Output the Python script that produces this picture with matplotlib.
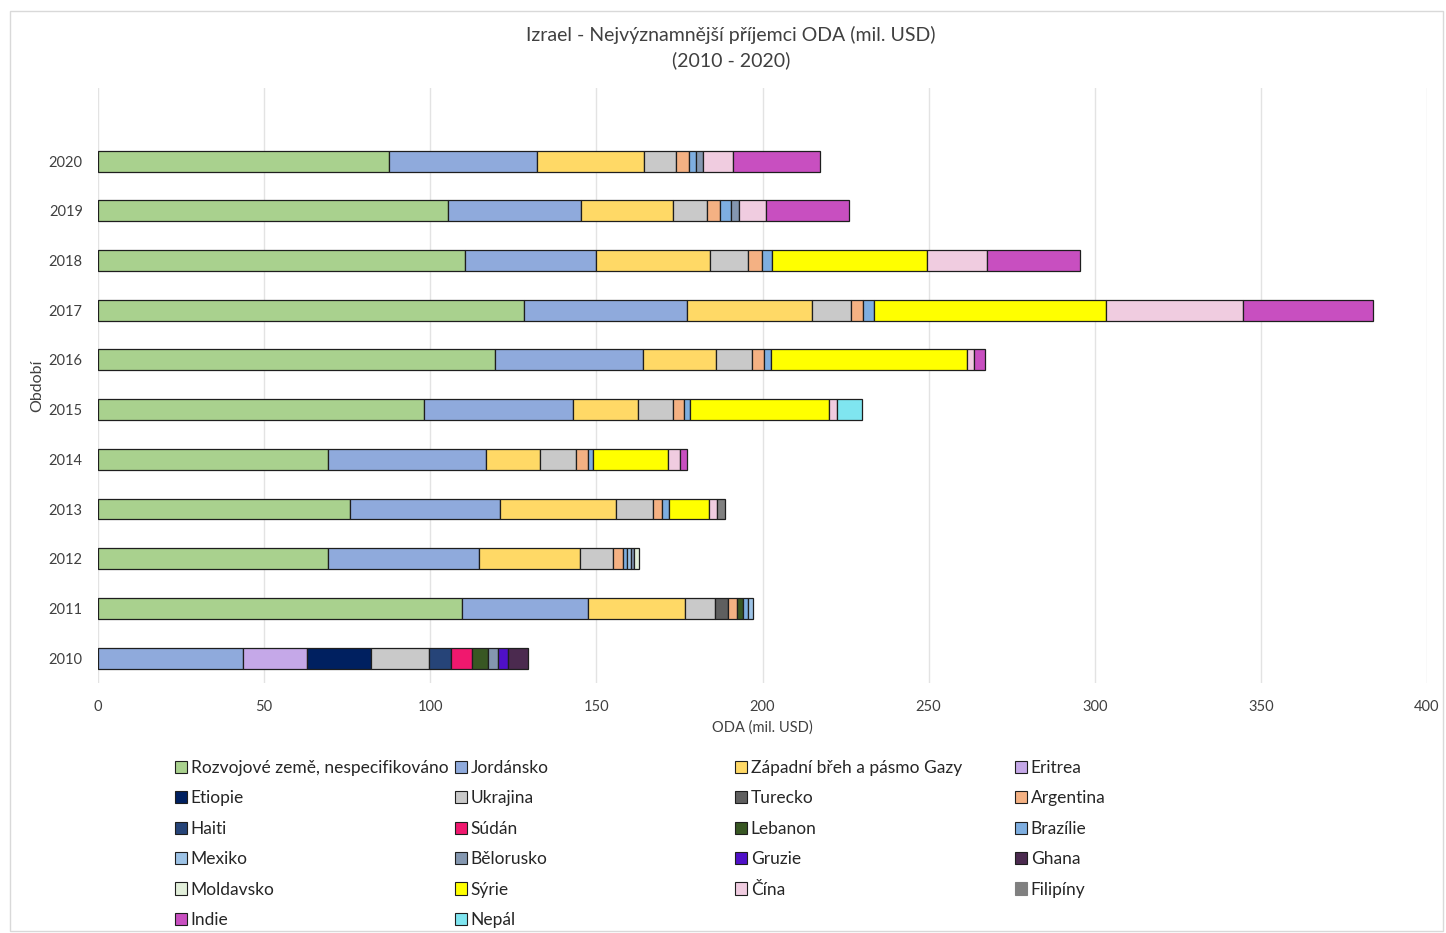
import numpy as np
import matplotlib
matplotlib.use("Agg")
import matplotlib.pyplot as plt
from matplotlib.patches import Patch, Rectangle

plt.rcParams['font.family'] = ['Lato', 'DejaVu Sans']

years = ["2010", "2011", "2012", "2013", "2014", "2015", "2016", "2017", "2018", "2019", "2020"]

series_names = ["Rozvojové země, nespecifikováno", "Jordánsko", "Západní břeh a pásmo Gazy", "Eritrea",
                "Etiopie", "Ukrajina", "Turecko", "Argentina", "Haiti", "Súdán", "Lebanon", "Brazílie",
                "Mexiko", "Bělorusko", "Gruzie", "Ghana", "Moldavsko", "Sýrie", "Čína", "Filipíny",
                "Indie", "Nepál"]

#                 2010  2011   2012  2013  2014  2015  2016   2017   2018   2019   2020
rozvojove  = [0,    109.6, 69.2, 75.8, 69.2, 98.1, 119.5, 128.2, 110.5, 105.3, 87.6]
jordansko  = [43.5, 37.9,  45.5, 45.2, 47.6, 45.0, 44.6,  49.0,  39.4,  40.1,  44.5]
zapadni    = [0,    29.2,  30.4, 34.8, 16.2, 19.3, 21.8,  37.6,  34.3,  27.6,  32.2]
eritrea    = [19.5, 0, 0, 0, 0, 0, 0, 0, 0, 0, 0]
etiopie    = [19.2, 0, 0, 0, 0, 0, 0, 0, 0, 0, 0]
ukrajina   = [17.5, 9.1,   10.0, 11.1, 10.9, 10.8, 11.0,  11.7,  11.5,  10.2,  9.7]
turecko    = [0,    3.7, 0, 0, 0, 0, 0, 0, 0, 0, 0]
argentina  = [0,    2.9,   3.0,  3.0,  3.5,  3.2,  3.6,   3.7,   4.2,   4.0,   3.9]
haiti      = [6.5, 0, 0, 0, 0, 0, 0, 0, 0, 0, 0]
sudan      = [6.3, 0, 0, 0, 0, 0, 0, 0, 0, 0, 0]
lebanon    = [4.8,  1.7, 0, 0, 0, 0, 0, 0, 0, 0, 0]
brazilie   = [0,    1.6,   1.2,  2.0,  1.7,  1.8,  2.0,   3.4,   3.0,   3.2,   2.1]
mexiko     = [0,    1.5,   1.1,  0, 0, 0, 0, 0, 0, 0, 0]
belorusko  = [3.2,  0,     1.0,  0, 0, 0, 0, 0, 0,   2.5,   2.0]
gruzie     = [3.0, 0, 0, 0, 0, 0, 0, 0, 0, 0, 0]
ghana      = [5.8, 0, 0, 0, 0, 0, 0, 0, 0, 0, 0]
moldavsko  = [0,    0,     1.3,  0, 0, 0, 0, 0, 0, 0, 0]
syrie      = [0,    0,     0,    12.1, 22.5, 41.9, 58.9,  69.8,  46.5,  0,     0]
cina       = [0,    0,     0,    2.4,  3.6,  2.2,  2.3,   41.2,  18.1,  8.3,   9.2]
filipiny   = [0,    0,     0,    2.3,  0, 0, 0, 0, 0, 0, 0]
indie      = [0,    0,     0,    0,    2.1,  0,    3.3,   39.2,  28.1,  24.8,  26.1]
nepal      = [0,    0,     0,    0,    0,    7.5,  0, 0, 0, 0, 0]

series_values = [rozvojove, jordansko, zapadni, eritrea, etiopie, ukrajina, turecko, argentina,
                 haiti, sudan, lebanon, brazilie, mexiko, belorusko, gruzie, ghana, moldavsko,
                 syrie, cina, filipiny, indie, nepal]

colors = ["#A9D18E", "#8FAADC", "#FFD966", "#C5A8E8", "#002060", "#C9C9C9", "#5F5F5F", "#F4B183",
          "#264478", "#F0186E", "#385723", "#7EAEE0", "#9DC3E6", "#8497B0", "#4F10C8", "#4B2A4F",
          "#E2EFDA", "#FFFF00", "#F0CCE0", "#808080", "#C84FC0", "#7FE5F0"]

W, H = 1446, 933
fig = plt.figure(figsize=(W / 100, H / 100), dpi=100)
ax = fig.add_axes([98 / W, 1 - 683 / H, (1427 - 98) / W, (683 - 88) / H])

ypos = np.arange(len(years))
left = np.zeros(len(years))
edge = "#1e1e1e"
for name, vals, col in zip(series_names, series_values, colors):
    vals = np.array(vals, dtype=float)
    m = vals > 0
    ax.barh(ypos[m], vals[m], left=left[m], height=0.42, color=col,
            edgecolor=edge, linewidth=0.9, zorder=3)
    left += vals

ax.set_xlim(0, 400)
ax.set_ylim(-0.5, 11.47)
ax.set_xticks(np.arange(0, 401, 50))
ax.set_yticks(ypos)
ax.set_yticklabels(years)
ax.tick_params(axis='both', length=0, labelsize=10.5, colors="#404040")
ax.tick_params(axis='x', pad=12)
ax.tick_params(axis='y', pad=11)
for s in ax.spines.values():
    s.set_visible(False)
ax.grid(axis='x', color="#E3E3E3", linewidth=1, zorder=0)
ax.set_axisbelow(True)
ax.set_xlabel("ODA (mil. USD)", fontsize=10.5, color="#404040", labelpad=5)
ax.set_ylabel("Období", fontsize=11.5, color="#404040", labelpad=3)

fig.text(731 / W, 1 - 35 / H, "Izrael - Nejvýznamnější příjemci ODA (mil. USD)", ha='center', va='center',
         fontsize=14, color="#404040")
fig.text(731 / W, 1 - 60 / H, "(2010 - 2020)", ha='center', va='center', fontsize=14, color="#404040")

# chart border
fig.add_artist(Rectangle((10 / W, 1 - 931 / H), (1443 - 10) / W, (931 - 11) / H, transform=fig.transFigure,
                         fill=False, edgecolor="#D9D9D9", linewidth=1))

# legend: 4 columns, row-major order
ncol = 4
col_x = [175, 455, 735, 1015]
for c in range(ncol):
    idx = list(range(c, len(series_names), ncol))
    handles = [Patch(facecolor=colors[i], edgecolor=edge if series_names[i] != "Filipíny" else colors[i],
                     linewidth=0.8) for i in idx]
    labels = [series_names[i] for i in idx]
    leg = fig.legend(handles, labels, loc='upper left', bbox_to_anchor=(col_x[c] / W, 1 - 760 / H),
                     frameon=False, fontsize=12.5, handlelength=0.7, handleheight=0.7,
                     handletextpad=0.2, labelspacing=0.83, borderpad=0, borderaxespad=0,
                     labelcolor="#262626")

fig.savefig("out.png", dpi=100)
